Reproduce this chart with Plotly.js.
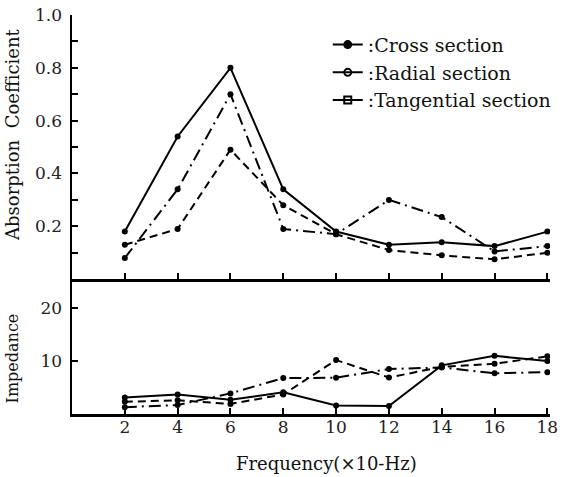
<!DOCTYPE html>
<html>
<head>
<meta charset="utf-8">
<script src="https://cdn.plot.ly/plotly-3.0.1.min.js"></script>
<style>html,body{margin:0;padding:0;background:#fff;}#chart{width:568px;height:477px;}</style>
</head>
<body>
<div id="chart"></div>
<script>
// Frequency (x 10 Hz)
const frequency = [2, 4, 6, 8, 10, 12, 14, 16, 18];

// Absorption coefficient (top panel)
const absCross      = [0.18, 0.54, 0.80, 0.34, 0.18, 0.13, 0.14, 0.125, 0.18];
const absRadial     = [0.13, 0.19, 0.49, 0.28, 0.17, 0.11, 0.09, 0.075, 0.10];
const absTangential = [0.08, 0.34, 0.70, 0.19, 0.17, 0.30, 0.235, 0.105, 0.125];

// Impedance (bottom panel)
const impCross      = [3.1, 3.7, 2.7, 4.1, 1.6, 1.5, 9.2, 11.0, 10.0];
const impRadial     = [2.3, 2.6, 1.9, 3.7, 10.2, 6.9, 8.9, 9.5, 10.9];
const impTangential = [1.3, 1.7, 3.9, 6.8, 6.85, 8.5, 8.8, 7.7, 7.9];

// Labels
const seriesNames = [':Cross section', ':Radial section', ':Tangential section'];
const absTickVals = [0.2, 0.4, 0.6, 0.8, 1.0];
const absTickText = ['0.2', '0.4', '0.6', '0.8', '1.0'];
const impTickVals = [10, 20];
const impTickText = ['10', '20'];
const freqTickText = ['2', '4', '6', '8', '10', '12', '14', '16', '18'];

const FONT = 'DejaVu Serif';
const dashes = ['solid', '8px,5px', '12px,5px,2px,5px'];
const mk = {color: '#000', size: 6, symbol: 'circle'};

function tr(y, i, xa, ya) {
  return {x: frequency, y: y, xaxis: xa, yaxis: ya, mode: 'lines+markers',
    line: {color: '#000', width: 2, dash: dashes[i]}, marker: mk,
    showlegend: false, hoverinfo: 'skip'};
}
const traces = [
  tr(absCross, 0, 'x2', 'y'), tr(absRadial, 1, 'x2', 'y'), tr(absTangential, 2, 'x2', 'y'),
  tr(impCross, 0, 'x', 'y2'), tr(impRadial, 1, 'x', 'y2'), tr(impTangential, 2, 'x', 'y2')
];
// legend keys
const legSymbols = ['circle', 'circle-open', 'square-open'];
seriesNames.forEach((n, i) => {
  traces.push({x: [null], y: [null], xaxis: 'x2', yaxis: 'y', name: n, mode: 'lines+markers',
    line: {color: '#000', width: 2}, marker: {color: '#000', size: 7, symbol: legSymbols[i], line: {width: 2, color: '#000'}},
    showlegend: true});
});

const axisCommon = {showgrid: false, zeroline: false, showline: true, linecolor: '#000', linewidth: 2.5,
  ticks: 'inside', ticklen: 6, tickwidth: 2, tickcolor: '#000',
  tickfont: {family: FONT, size: 17, color: '#222'}};

const layout = {
  width: 568, height: 477,
  margin: {l: 72, r: 18, t: 15, b: 63},
  paper_bgcolor: '#fff', plot_bgcolor: '#fff',
  font: {family: FONT, color: '#111'},
  xaxis: Object.assign({}, axisCommon, {range: [0, 18.1], anchor: 'y2', tickmode: 'array',
    tickvals: frequency, ticktext: freqTickText, linewidth: 3, ticklabelstandoff: -4}),
  xaxis2: Object.assign({}, axisCommon, {range: [0, 18.1], anchor: 'y', matches: 'x', tickmode: 'array',
    tickvals: frequency, showticklabels: false, linewidth: 3}),
  yaxis: Object.assign({}, axisCommon, {domain: [0.338, 1], range: [0, 1.0], anchor: 'x2',
    tickmode: 'array', tickvals: absTickVals, ticktext: absTickText, ticklabelstandoff: 4,
    minor: {tickmode: 'array', tickvals: [0.1, 0.3, 0.5, 0.7, 0.9], ticks: 'inside', ticklen: 6, tickwidth: 2, tickcolor: '#000'}}),
  yaxis2: Object.assign({}, axisCommon, {domain: [0, 0.338], range: [0, 25.5], anchor: 'x',
    tickmode: 'array', tickvals: impTickVals, ticktext: impTickText, ticklabelstandoff: 4}),
  legend: {x: 0.535, y: 0.973, xanchor: 'left', yanchor: 'top', bgcolor: 'rgba(0,0,0,0)',
    font: {family: FONT, size: 19, color: '#111'}, tracegroupgap: 0},
  annotations: [
    {text: 'Absorption\u00a0 Coefficient', xref: 'paper', yref: 'paper', x: -0.125, y: 0.70,
     xanchor: 'center', yanchor: 'middle', textangle: -90, showarrow: false,
     font: {family: FONT, size: 18, color: '#111'}},
    {text: 'Impedance', xref: 'paper', yref: 'paper', x: -0.125, y: 0.14,
     xanchor: 'center', yanchor: 'middle', textangle: -90, showarrow: false,
     font: {family: FONT, size: 16, color: '#111'}},
    {text: 'Frequency(×10-Hz)', xref: 'paper', yref: 'paper', x: 0.533, y: -0.123,
     xanchor: 'center', yanchor: 'middle', showarrow: false,
     font: {family: FONT, size: 18, color: '#111'}}
  ]
};

Plotly.newPlot('chart', traces, layout, {staticPlot: true, displayModeBar: false});
</script>
</body>
</html>
